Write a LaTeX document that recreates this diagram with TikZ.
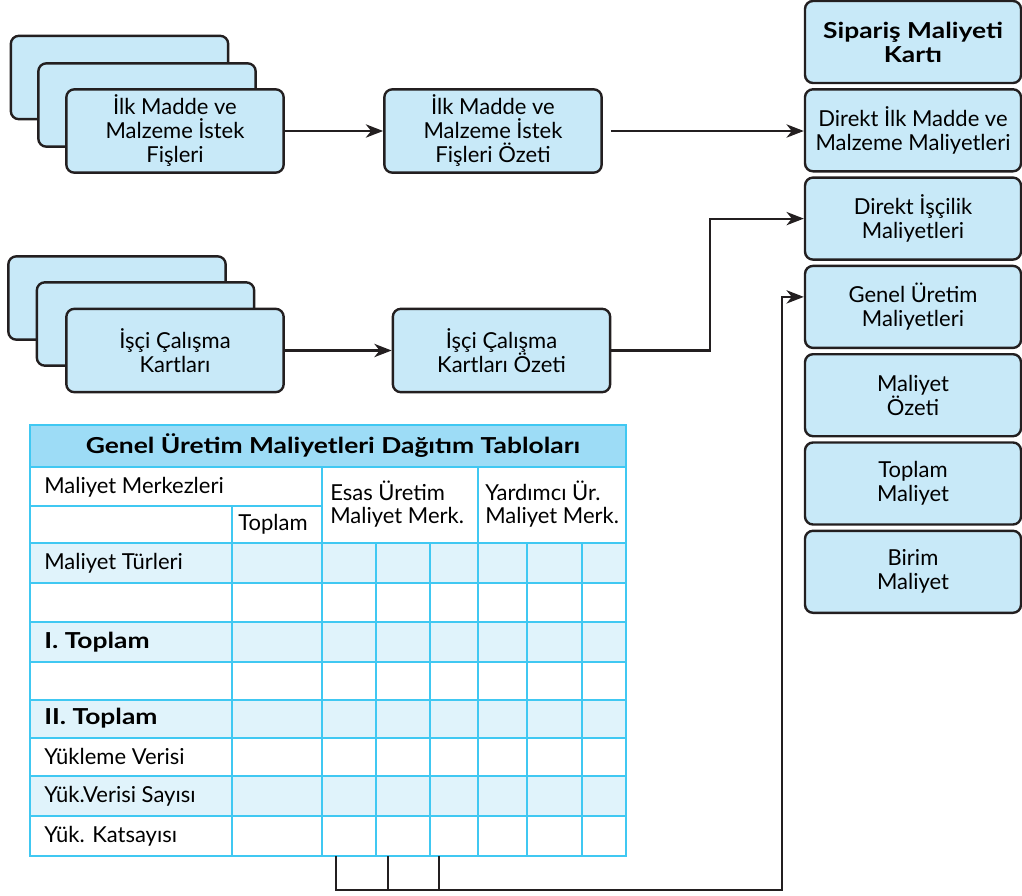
\documentclass[tikz,border=0pt]{standalone}
\usepackage{fontspec}
\setmainfont{Lato}
\newfontfamily\hbold{Lato}[FakeStretch=1.2]
\usetikzlibrary{arrows.meta}
\definecolor{boxfill}{HTML}{C8E9F8}
\definecolor{ink}{HTML}{231F20}
\definecolor{tline}{HTML}{40C8F2}
\definecolor{thead}{HTML}{9DDCF6}
\definecolor{tshade}{HTML}{E0F3FB}
\begin{document}
\begin{tikzpicture}[x=0.75pt,y=-0.75pt,
  box/.style={draw=ink, fill=boxfill, line width=1.8pt, rounded corners=6pt,
    minimum width=163pt, minimum height=62.5pt, align=center, inner sep=0pt,
    font=\fontsize{16.5}{18}\selectfont},
  rbox/.style={box, minimum width=162pt, minimum height=61.5pt},
  conn/.style={draw=ink, line width=1.6pt},
  arr/.style={conn, -{Stealth[length=13pt,width=10pt,inset=4pt]}},
  tgrid/.style={draw=tline, line width=2pt},
  ttext/.style={anchor=west, inner sep=0pt, font=\fontsize{16.5}{17.2}\selectfont, align=left},
  tbold/.style={ttext, font=\fontsize{16.5}{17}\selectfont\hbold\bfseries},
]
\useasboundingbox (0,0) rectangle (1022,896);

% stacked cards 1
\node[box] (s1a) at (119.5,77.5) {};
\node[box] (s1b) at (147,105) {};
\node[box] (s1c) at (175,131) {İlk Madde ve\\Malzeme İstek\\Fişleri};
\node[box] (f1) at (493,131) {İlk Madde ve\\Malzeme İstek\\Fişleri Özeti};

% stacked cards 2
\node[box] (s2a) at (117,298) {};
\node[box] (s2b) at (145.5,324) {};
\node[box] (s2c) at (175,350.5) {İşçi Çalışma\\Kartları};
\node[box] (f2) at (501.5,350.5) {İşçi Çalışma\\Kartları Özeti};

% right column
\node[rbox, font=\fontsize{16.5}{18}\selectfont\hbold\bfseries] (r1) at (913,42) {Sipariş Maliyeti\\Kartı};
\node[rbox] (r2) at (913,130.3) {Direkt İlk Madde ve\\Malzeme Maliyetleri};
\node[rbox] (r3) at (913,218.6) {Direkt İşçilik\\Maliyetleri};
\node[rbox] (r4) at (913,306.9) {Genel Üretim\\Maliyetleri};
\node[rbox] (r5) at (913,395.2) {Maliyet\\Özeti};
\node[rbox] (r6) at (913,483.5) {Toplam\\Maliyet};
\node[rbox] (r7) at (913,571.8) {Birim\\Maliyet};

% table fills
\fill[thead] (30,425) rectangle (626,467);
\fill[tshade] (30,543) rectangle (626,583);
\fill[tshade] (30,622) rectangle (626,662);
\fill[tshade] (30,700) rectangle (626,738);
\fill[tshade] (30,776) rectangle (626,816);
% table grid
\draw[tgrid] (30,467) -- (626,467);
\draw[tgrid] (30,506) -- (322,506);
\foreach \y in {543,583,622,662,700,738,776,816} \draw[tgrid] (30,\y) -- (626,\y);
\draw[tgrid] (232,506) -- (232,856);
\draw[tgrid] (322,467) -- (322,856);
\draw[tgrid] (478,467) -- (478,856);
\foreach \x in {376,430,527,582} \draw[tgrid] (\x,543) -- (\x,856);
\draw[tgrid] (30,425) rectangle (626,856);

% table texts
\node[tbold, anchor=center] (th) at (333,446) {Genel Üretim Maliyetleri Dağıtım Tabloları};
\node[ttext] (tmm) at (44,487) {Maliyet Merkezleri};
\node[ttext] (ttop) at (238,524) {Toplam};
\node[ttext] (tes) at (330,504) {Esas Üretim\\Maliyet Merk.};
\node[ttext] (tya) at (485,504) {Yardımcı Ür.\\Maliyet Merk.};
\node[ttext] (tmt) at (44,563) {Maliyet Türleri};
\node[tbold] (t1) at (44,642) {I. Toplam};
\node[tbold] (t2) at (44,718) {II. Toplam};
\node[ttext] (tyv) at (44,756) {Yükleme Verisi};
\node[ttext] (tys) at (44,796) {Yük.Verisi Sayısı};
\node[ttext] (tyk) at (44,836) {Yük. Katsayısı};

% connectors
\coordinate (bend2) at (710,0);
\coordinate (c1) at (336,856);
\coordinate (c2) at (388,856);
\coordinate (c3) at (439,856);
\coordinate (cb) at (782,890);
\draw[arr] (s1c.east) -- (f1.west);
\draw[arr] ([xshift=6pt]f1.east) -- (f1.east -| r2.west);
\draw[arr] (s2c.east) -- (f2.west);
\draw[arr] (f2.east) -- (f2.east -| bend2) |- (r3.west);
\draw[conn] (c2) -- (c2 |- cb);
\draw[conn] (c3) -- (c3 |- cb);
\draw[arr] (c1) -- (c1 |- cb) -- (cb) |- ([yshift=7.5pt]r4.west);
\end{tikzpicture}
\end{document}
